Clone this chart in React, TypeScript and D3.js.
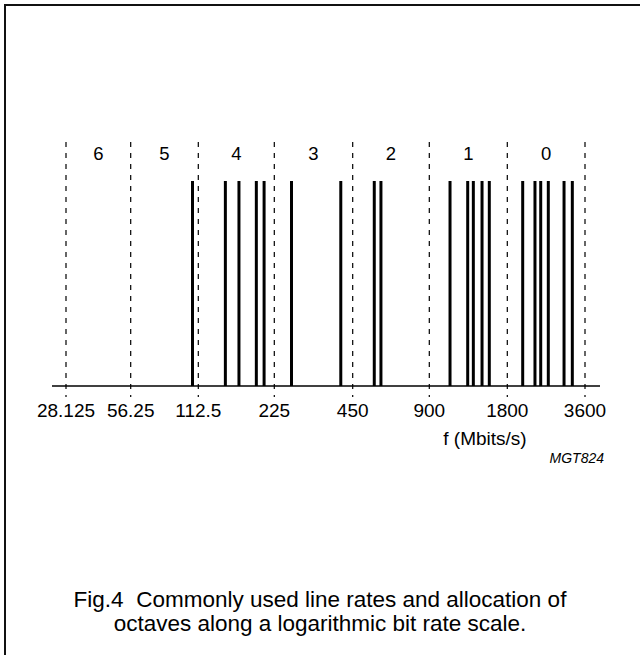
import React from 'react';
import * as d3 from 'd3';

// octave boundaries on the bit rate axis (Mbits/s)
const octaveEdges = [28.125, 56.25, 112.5, 225, 450, 900, 1800, 3600];
const edgeLabels = ['28.125', '56.25', '112.5', '225', '450', '900', '1800', '3600'];
const octaveNames = ['6', '5', '4', '3', '2', '1', '0'];

// commonly used line rates (Mbits/s)
const lineRates = [
  106, 144, 163, 191, 205, 262, 405, 547, 581, 1082, 1266, 1331, 1438, 1534,
  2065, 2304, 2425, 2595, 2986, 3215,
];

const width = 640;
const height = 655;
const baseY = 386;
const barTop = 181;
const dashTop = 142;
// the drawing's octaves are not quite equal in width, so the log scale is piecewise
const edgeX = [66, 130.7, 198.3, 274.3, 352.7, 429.3, 507.3, 585];

export default function App() {
  const x = d3.scaleLog().domain(octaveEdges).range(edgeX);
  const font = "'Liberation Sans', Arial, sans-serif";

  return (
    <svg
      width={width}
      height={height}
      style={{ position: 'absolute', left: 0, top: 0, background: '#fff' }}
      fontFamily={font}
    >
      <rect x={5} y={5} width={700} height={700} fill="none" stroke="#111" strokeWidth={2} />

      {/* octave dividers */}
      {octaveEdges.map((v) => (
        <line
          key={'d' + v}
          x1={x(v)}
          x2={x(v)}
          y1={dashTop}
          y2={baseY + 11}
          stroke="#000"
          strokeWidth={1.2}
          strokeDasharray="5,6"
        />
      ))}

      {/* octave numbers */}
      {octaveNames.map((n, i) => (
        <text
          key={'o' + n}
          x={(x(octaveEdges[i]) + x(octaveEdges[i + 1])) / 2}
          y={160}
          fontSize={18.5}
          textAnchor="middle"
        >
          {n}
        </text>
      ))}

      {/* line rates */}
      {lineRates.map((r) => (
        <line key={'r' + r} x1={x(r)} x2={x(r)} y1={barTop} y2={baseY} stroke="#000" strokeWidth={3} />
      ))}

      {/* axis */}
      <line x1={52} x2={600} y1={baseY} y2={baseY} stroke="#000" strokeWidth={1.5} />
      {octaveEdges.map((v, i) => (
        <text key={'t' + v} x={x(v)} y={417} fontSize={19} textAnchor="middle">
          {edgeLabels[i]}
        </text>
      ))}
      <text x={485} y={445} fontSize={19} textAnchor="middle">
        f (Mbits/s)
      </text>
      <text x={604} y={463} fontSize={14} fontStyle="italic" textAnchor="end">
        MGT824
      </text>

      {/* caption */}
      <text x={320} y={607} fontSize={22.5} textAnchor="middle">
        Fig.4{'\u00a0\u00a0'}Commonly used line rates and allocation of
      </text>
      <text x={320} y={631} fontSize={22.5} textAnchor="middle">
        octaves along a logarithmic bit rate scale.
      </text>
    </svg>
  );
}
